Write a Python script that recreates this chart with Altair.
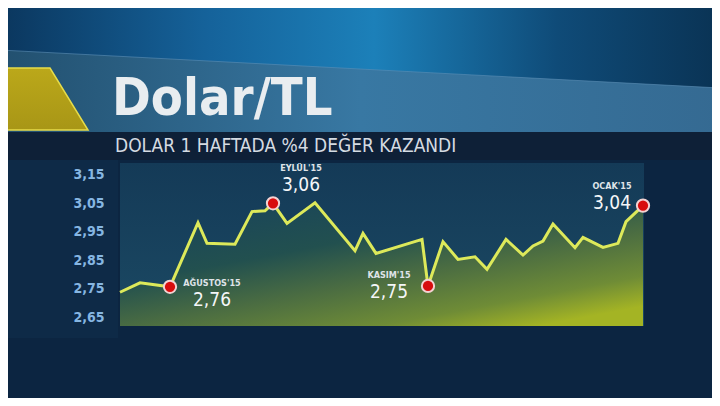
import altair as alt
import pandas as pd

# ---------------- data ----------------
gun = [0, 20, 50, 78, 87, 115, 132, 145, 153, 167, 195, 235, 243, 256, 302, 308,
       323, 338, 355, 367, 386, 403, 413, 423, 433, 455, 463, 483, 498, 506, 523]
kur = [2.738, 2.771, 2.757, 2.981, 2.909, 2.906, 3.020, 3.023, 3.049, 2.979, 3.051,
       2.883, 2.944, 2.874, 2.923, 2.760, 2.915, 2.853, 2.862, 2.818, 2.923, 2.868,
       2.900, 2.917, 2.977, 2.894, 2.930, 2.895, 2.909, 2.985, 3.041]
nokta_idx = [2, 8, 15, 30]
nokta_ad = ["AĞUSTOS'15", "EYLÜL'15", "KASIM'15", "OCAK'15"]
nokta_deger = ["2,76", "3,06", "2,75", "3,04"]
y_ticks = [2.65, 2.75, 2.85, 2.95, 3.05, 3.15]
baslik = "Dolar/TL"
alt_baslik = "DOLAR 1 HAFTADA %4 DEĞER KAZANDI"

# ---------------- layout ----------------
W, H = 704, 390
X_DOMAIN = [0, 524]
X_RANGE = [112, 636]
Y_DOMAIN = [2.62, 3.19]
Y_RANGE = [318, 155]
FONT = "DejaVu Sans Condensed"

# label offsets (dx, dy of name baseline, dy of value baseline) per annotation
label_style = {
    "AĞUSTOS'15": (42, -1, 19),
    "EYLÜL'15": (28, -32, -12),
    "KASIM'15": (-39, -8, 12),
    "OCAK'15": (-31, -17, 3),
}

df = pd.DataFrame({"gun": gun, "kur": kur})
dots = df.iloc[nokta_idx].copy().reset_index(drop=True)
dots["ad"] = nokta_ad
dots["etiket"] = nokta_deger
one = pd.DataFrame({"a": [0]})

x_enc = alt.X("gun:Q", scale=alt.Scale(domain=X_DOMAIN, range=X_RANGE, nice=False, zero=False), axis=None)
y_scale = alt.Scale(domain=Y_DOMAIN, range=Y_RANGE, nice=False, zero=False)
y_axis = alt.Axis(
    values=y_ticks, offset=-96, domain=False, ticks=False, grid=False, labelPadding=0,
    labelColor="#86b6e2", labelFont=FONT, labelFontSize=14, labelFontWeight="bold",
    labelExpr="replace(format(datum.value, '.2f'), '.', ',')", title=None, zindex=1,
)


def grad(stops, x1=0, y1=0, x2=1, y2=0):
    return alt.LinearGradient(
        gradient="linear",
        stops=[alt.GradientStop(offset=o, color=c) for o, c in stops],
        x1=x1, y1=y1, x2=x2, y2=y2,
    )


def rect(x, x2, y, y2, color):
    return alt.Chart(one).mark_rect(color=color).encode(
        x=alt.value(x), x2=alt.value(x2), y=alt.value(y), y2=alt.value(y2)
    )


# background pieces
top_bg = rect(0, W, 0, 124, grad([(0, "#0b3860"), (0.28, "#15629a"), (0.52, "#1c80b9"),
                                  (0.78, "#0f4b78"), (1, "#0a3456")]))
band = alt.Chart(one).mark_point(
    shape="M-1,-0.1139L1,-0.0083L1,0.1139L-1,0.1139Z", size=720 * 720, filled=True, opacity=1,
    fill=grad([(0, "#22506f"), (0.5, "#3878a3"), (1, "#356a92")]), stroke=None,
).encode(x=alt.value(352), y=alt.value(83))
band_edge = alt.Chart(one).mark_rule(color="#5d8fb5", strokeWidth=1, opacity=0.6).encode(
    x=alt.value(-8), x2=alt.value(712), y=alt.value(42), y2=alt.value(80))
yellow = alt.Chart(one).mark_point(
    shape="M-1,-0.62L0.12,-0.62L0.88,0.62L-1,0.62Z", size=100 * 100, filled=True, opacity=1,
    fill=grad([(0, "#bba81a"), (1, "#a89616")], 0, 0, 0, 1), stroke="#e6dc4a", strokeWidth=1.5,
).encode(x=alt.value(36), y=alt.value(91))
sub_band = rect(0, W, 124, 152, "#0e2037")
left_panel = rect(0, 110, 152, 330, "#0e2a47")
box = rect(112, 636, 155, 318, grad([(0, "#143a57"), (1, "#1b4963")], 0, 0, 0, 1))

title_t = alt.Chart(one).mark_text(
    text=baslik, align="left", baseline="alphabetic", font=FONT, fontWeight="bold",
    fontSize=52, color="#e9edf0",
).encode(x=alt.value(104), y=alt.value(107))
sub_t = alt.Chart(one).mark_text(
    text=alt_baslik, align="left", baseline="alphabetic", font=FONT,
    fontSize=19, color="#d5dbe2",
).encode(x=alt.value(107), y=alt.value(144))

# data layers
area = alt.Chart(df).mark_area(
    color=grad([(0, "#17425e"), (0.4, "#22504f"), (0.62, "#4a6c42"), (0.85, "#6f8c36"), (1, "#a4b424")],
               0, 0, 0.8, 1),
    interpolate="linear",
).encode(x=x_enc, y=alt.Y("kur:Q", scale=y_scale, axis=y_axis), y2=alt.datum(Y_DOMAIN[0]))

line = alt.Chart(df).mark_line(color="#dde95a", strokeWidth=3, strokeJoin="miter").encode(
    x=x_enc, y=alt.Y("kur:Q", scale=y_scale, axis=y_axis),
)

pts = alt.Chart(dots).mark_point(
    filled=True, fill="#d80d0d", stroke="#f3d2d2", strokeWidth=2, size=150, opacity=1,
).encode(x=x_enc, y=alt.Y("kur:Q", scale=y_scale, axis=y_axis))

ann = []
for name in nokta_ad:
    dx, dy1, dy2 = label_style[name]
    base = alt.Chart(dots).transform_filter(alt.datum.ad == name)
    ann.append(base.mark_text(dx=dx, dy=dy1, font=FONT, fontWeight="bold", fontSize=9,
                              color="#dfe3e8", align="center", baseline="alphabetic")
               .encode(x=x_enc, y=alt.Y("kur:Q", scale=y_scale, axis=y_axis), text="ad:N"))
    ann.append(base.mark_text(dx=dx, dy=dy2, font=FONT, fontSize=19,
                              color="#f4f6f8", align="center", baseline="alphabetic")
               .encode(x=x_enc, y=alt.Y("kur:Q", scale=y_scale, axis=y_axis), text="etiket:N"))

chart = alt.layer(
    top_bg, band, band_edge, yellow, sub_band, left_panel, box, title_t, sub_t,
    area, line, pts, *ann,
).properties(
    width=W, height=H, background="#0c2541", padding=0,
    autosize=alt.AutoSizeParams(type="none"),
).configure_view(stroke=None)

chart.save("out.html", embed_options={"renderer": "svg", "actions": False})
